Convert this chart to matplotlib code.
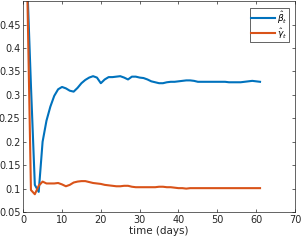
import numpy as np
import matplotlib
matplotlib.use('Agg')
import matplotlib.pyplot as plt

days = list(range(1, 62))
beta_hat = [0.55, 0.32, 0.108, 0.093, 0.200, 0.245, 0.275, 0.298, 0.312, 0.317,
            0.314, 0.309, 0.307, 0.315, 0.325, 0.332, 0.337, 0.340, 0.337, 0.325,
            0.333, 0.338, 0.338, 0.339, 0.340, 0.337, 0.333, 0.339, 0.339, 0.337,
            0.336, 0.333, 0.329, 0.327, 0.325, 0.325, 0.327, 0.328, 0.328, 0.329,
            0.330, 0.331, 0.331, 0.330, 0.328, 0.328, 0.328, 0.328, 0.328, 0.328,
            0.328, 0.328, 0.327, 0.327, 0.327, 0.327, 0.328, 0.329, 0.330, 0.329,
            0.328]
gamma_hat = [0.55, 0.097, 0.088, 0.106, 0.115, 0.111, 0.111, 0.111, 0.112, 0.109,
             0.105, 0.108, 0.113, 0.115, 0.116, 0.116, 0.114, 0.112, 0.111, 0.110,
             0.108, 0.107, 0.106, 0.105, 0.105, 0.106, 0.106, 0.104, 0.103, 0.103,
             0.103, 0.103, 0.103, 0.103, 0.104, 0.104, 0.103, 0.103, 0.102, 0.101,
             0.101, 0.100, 0.101, 0.101, 0.101, 0.101, 0.101, 0.101, 0.101, 0.101,
             0.101, 0.101, 0.101, 0.101, 0.101, 0.101, 0.101, 0.101, 0.101, 0.101,
             0.101]

xticks = list(range(0, 80, 10))
yticks = [0.05, 0.1, 0.15, 0.2, 0.25, 0.3, 0.35, 0.4, 0.45]
ytick_labels = ['0.05', '0.1', '0.15', '0.2', '0.25', '0.3', '0.35', '0.4', '0.45']

fig = plt.figure(figsize=(3.01, 2.44), dpi=100)
ax = fig.add_axes([0.077, 0.131, 0.903, 0.864])

ax.plot(days, beta_hat, color='#0072BD', lw=1.5, label=r'$\hat{\beta}_t$')
ax.plot(days, gamma_hat, color='#D95319', lw=1.5, label=r'$\hat{\gamma}_t$')

ax.set_xlim(0, 70)
ax.set_ylim(0.05, 0.5)
ax.set_xticks(xticks)
ax.set_yticks(yticks)
ax.set_yticklabels(ytick_labels)
ax.tick_params(direction='in', length=2.5, width=0.5, labelsize=7,
               colors='#262626', pad=2, top=True, right=True)
for s in ax.spines.values():
    s.set_color('#262626')
    s.set_linewidth(0.5)
ax.set_xlabel('time (days)', fontsize=7.5, color='#262626', labelpad=1)

leg = ax.legend(loc='upper right', fontsize=6.5, handlelength=2.6,
                borderpad=0.15, labelspacing=0.05, handletextpad=0.2,
                fancybox=False, framealpha=1, borderaxespad=0.7)
leg.get_frame().set_edgecolor('#262626')
leg.get_frame().set_linewidth(0.5)

fig.savefig('out.png', dpi=100)
